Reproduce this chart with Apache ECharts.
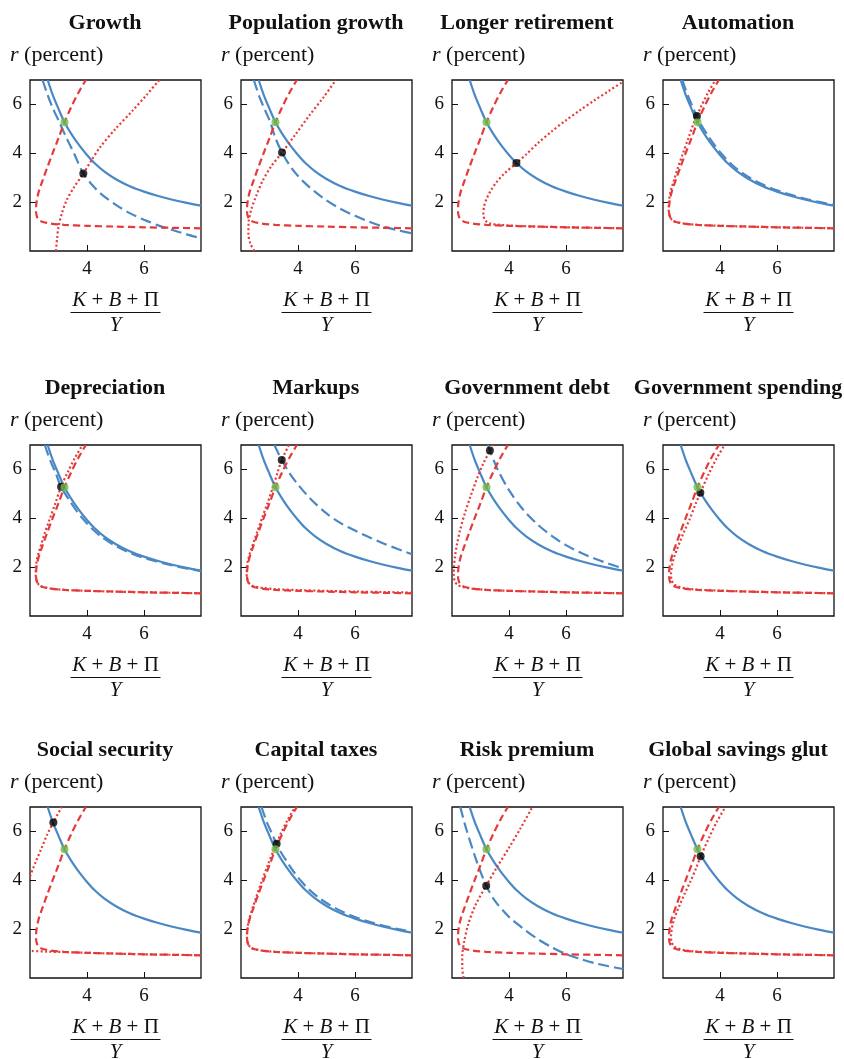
<!DOCTYPE html>
<html>
<head>
<meta charset="utf-8">
<script src="https://cdn.jsdelivr.net/npm/echarts@6/dist/echarts.min.js"></script>
<style>
  html, body { margin: 0; padding: 0; background: #fff; }
  #chart { width: 844px; height: 1059px; }
</style>
</head>
<body>
<div id="chart"></div>
<script>
// ---- data: r (percent) against (K + B + Π) / Y ----
const panelTitles = ['Growth', 'Population growth', 'Longer retirement', 'Automation',
  'Depreciation', 'Markups', 'Government debt', 'Government spending',
  'Social security', 'Capital taxes', 'Risk premium', 'Global savings glut'];
const xRange = [2, 8];
const yRange = [0, 7];
const tickStep = 2;

// initial asset demand (solid blue) and asset supply (dashed red)
const baseDemand = [[2.62,7.0],[2.8,6.38],[3.0,5.82],[3.21,5.27],[3.5,4.7],[3.75,4.29],[4.0,3.93],[4.26,3.6],[4.6,3.26],[5.0,2.95],[5.5,2.65],[6.0,2.43],[6.5,2.25],[7.0,2.1],[7.5,1.97],[8.0,1.855]];
const baseSupply = [[8.0,0.93],[7.0,0.95],[6.0,0.97],[5.0,1.0],[4.0,1.03],[3.2,1.07],[2.7,1.13],[2.45,1.19],[2.32,1.27],[2.24,1.42],[2.21,1.65],[2.22,1.9],[2.25,2.15],[2.3,2.4],[2.37,2.65],[2.46,2.95],[2.6,3.4],[2.77,3.93],[3.0,4.62],[3.21,5.27],[3.45,5.9],[3.7,6.48],[3.96,7.0]];
const baseEquilibrium = [3.21, 5.27];

// shifted demand (dashed blue) per scenario
const growthDemand = [[2.44,7.0],[2.6,6.45],[2.8,5.85],[3.03,5.27],[3.3,4.58],[3.55,3.98],[3.87,3.17],[4.2,2.68],[4.5,2.33],[5.0,1.9],[5.5,1.55],[6.0,1.28],[6.5,1.05],[7.0,0.86],[7.5,0.68],[8.0,0.52]];
const popGrowthDemand = [[2.45,7.0],[2.65,6.3],[2.85,5.75],[3.03,5.27],[3.2,4.65],[3.44,4.03],[3.8,3.35],[4.2,2.83],[4.57,2.45],[5.0,2.07],[5.5,1.72],[6.0,1.44],[6.5,1.2],[7.0,1.0],[7.5,0.85],[8.0,0.72]];
const automationDemand = [[2.68,7.0],[2.86,6.4],[3.06,5.85],[3.27,5.3],[3.56,4.75],[3.81,4.33],[4.06,3.97],[4.32,3.64],[4.66,3.3],[5.06,2.99],[5.56,2.69],[6.06,2.46],[6.56,2.28],[7.06,2.12],[7.56,1.99],[8.0,1.88]];
const depreciationDemand = [[2.52,7.0],[2.7,6.4],[2.9,5.85],[3.09,5.29],[3.4,4.7],[3.65,4.28],[3.9,3.92],[4.17,3.58],[4.5,3.25],[4.9,2.94],[5.4,2.64],[5.92,2.41],[6.45,2.23],[6.96,2.08],[7.48,1.95],[8.0,1.84]];
const markupsDemand = [[3.17,7.0],[3.43,6.39],[3.7,5.85],[4.0,5.38],[4.46,4.77],[5.0,4.2],[5.5,3.8],[6.0,3.5],[6.5,3.22],[7.0,2.97],[7.5,2.74],[8.0,2.53]];
const govDebtDemand = [[3.26,7.0],[3.33,6.77],[3.6,6.0],[4.0,5.15],[4.5,4.35],[5.0,3.75],[5.5,3.28],[6.0,2.9],[6.5,2.6],[7.0,2.35],[7.5,2.14],[8.0,1.95]];
const capitalTaxDemand = [[2.72,7.0],[2.9,6.4],[3.1,5.88],[3.31,5.33],[3.6,4.78],[3.85,4.35],[4.1,3.98],[4.35,3.66],[4.7,3.31],[5.1,3.0],[5.58,2.7],[6.07,2.47],[6.56,2.28],[7.05,2.13],[7.53,2.0],[8.0,1.89]];
const riskPremiumDemand = [[2.29,7.0],[2.5,6.1],[2.8,5.0],[3.0,4.35],[3.2,3.78],[3.5,3.17],[4.0,2.5],[4.5,2.02],[5.0,1.6],[5.5,1.26],[6.0,0.98],[6.5,0.78],[7.0,0.61],[7.5,0.48],[8.0,0.37]];

// shifted supply (dotted red) per scenario
const growthSupply = [[2.91,0.0],[2.95,0.5],[3.0,1.0],[3.12,1.55],[3.29,2.09],[3.55,2.62],[3.87,3.17],[4.15,3.7],[4.46,4.25],[5.0,5.0],[5.62,5.77],[6.1,6.4],[6.54,7.0]];
const popGrowthSupply = [[2.47,0.0],[2.33,0.3],[2.26,0.7],[2.27,1.2],[2.36,1.7],[2.53,2.25],[2.75,2.85],[3.05,3.45],[3.44,4.03],[3.9,4.75],[4.4,5.55],[4.9,6.3],[5.33,7.0]];
const retirementSupply = [[8.0,0.93],[7.0,0.95],[6.0,0.97],[5.0,1.0],[4.2,1.03],[3.7,1.07],[3.35,1.12],[3.17,1.25],[3.1,1.5],[3.13,1.85],[3.22,2.15],[3.35,2.45],[3.55,2.8],[3.8,3.13],[4.26,3.6],[4.6,3.95],[5.0,4.4],[5.5,4.9],[6.0,5.35],[6.5,5.77],[7.0,6.17],[7.5,6.55],[8.0,6.93]];
const automationSupply = [[8.0,0.93],[7.0,0.95],[6.0,0.97],[5.0,1.0],[4.0,1.03],[3.2,1.07],[2.7,1.13],[2.45,1.19],[2.32,1.27],[2.24,1.42],[2.2,1.65],[2.2,1.9],[2.22,2.15],[2.26,2.4],[2.32,2.65],[2.4,2.95],[2.52,3.4],[2.68,3.93],[2.89,4.62],[3.09,5.27],[3.19,5.53],[3.33,5.9],[3.58,6.48],[3.84,7.0]];
const depreciationSupply = [[8.0,0.93],[7.0,0.95],[6.0,0.97],[5.0,1.0],[4.0,1.03],[3.2,1.07],[2.7,1.13],[2.45,1.19],[2.32,1.27],[2.24,1.42],[2.2,1.65],[2.2,1.9],[2.22,2.15],[2.26,2.4],[2.32,2.65],[2.4,2.95],[2.52,3.4],[2.68,3.93],[2.89,4.62],[3.09,5.29],[3.33,5.9],[3.58,6.48],[3.84,7.0]];
const markupsSupply = [[8.0,0.96],[7.0,0.98],[6.0,1.0],[5.0,1.03],[4.0,1.06],[3.2,1.1],[2.7,1.16],[2.45,1.22],[2.3,1.32],[2.22,1.5],[2.2,1.7],[2.2,1.95],[2.23,2.2],[2.28,2.45],[2.35,2.7],[2.44,3.0],[2.57,3.45],[2.73,3.98],[2.93,4.62],[3.12,5.27],[3.29,5.9],[3.43,6.39],[3.68,7.0]];
const govDebtSupply = [[8.0,0.93],[7.0,0.95],[6.0,0.97],[5.0,1.0],[4.0,1.03],[3.2,1.07],[2.7,1.12],[2.4,1.18],[2.2,1.27],[2.1,1.42],[2.06,1.7],[2.07,2.0],[2.1,2.4],[2.17,2.9],[2.28,3.5],[2.45,4.2],[2.65,4.9],[2.87,5.6],[3.1,6.25],[3.33,6.77],[3.42,7.0]];
const govSpendingSupply = [[8.0,0.93],[7.0,0.95],[6.0,0.97],[5.0,1.0],[4.0,1.04],[3.2,1.08],[2.75,1.14],[2.5,1.22],[2.37,1.32],[2.3,1.48],[2.28,1.7],[2.3,1.95],[2.34,2.2],[2.4,2.45],[2.48,2.7],[2.58,3.0],[2.74,3.45],[2.93,3.95],[3.15,4.6],[3.31,5.05],[3.6,5.8],[3.88,6.45],[4.16,7.0]];
const socialSecuritySupplyLow = [[8.0,0.93],[7.0,0.95],[6.0,0.97],[5.0,1.0],[4.0,1.03],[3.2,1.06],[2.6,1.08],[2.0,1.11]];
const socialSecuritySupplyHigh = [[2.0,4.16],[2.2,4.75],[2.4,5.3],[2.6,5.86],[2.82,6.37],[3.11,7.0]];
const capitalTaxSupply = [[8.0,0.93],[7.0,0.95],[6.0,0.97],[5.0,1.0],[4.0,1.03],[3.2,1.07],[2.7,1.13],[2.45,1.19],[2.32,1.27],[2.24,1.42],[2.21,1.65],[2.21,1.9],[2.24,2.15],[2.28,2.4],[2.35,2.65],[2.43,2.95],[2.56,3.4],[2.72,3.93],[2.94,4.62],[3.16,5.27],[3.25,5.5],[3.39,5.9],[3.64,6.48],[3.9,7.0]];
const riskPremiumSupply = [[2.41,0.0],[2.36,0.4],[2.36,0.9],[2.43,1.5],[2.57,2.2],[2.83,3.0],[3.2,3.78],[3.6,4.58],[4.0,5.33],[4.4,6.12],[4.82,7.0]];
const savingsGlutSupply = [[8.0,0.93],[7.0,0.95],[6.0,0.97],[5.0,1.0],[4.0,1.04],[3.2,1.08],[2.75,1.14],[2.5,1.22],[2.37,1.32],[2.3,1.48],[2.28,1.7],[2.3,1.95],[2.34,2.2],[2.4,2.45],[2.48,2.7],[2.59,3.0],[2.76,3.45],[2.96,3.95],[3.18,4.55],[3.32,4.98],[3.62,5.75],[3.9,6.42],[4.19,7.0]];

// new equilibrium after each shift
const newEquilibria = [[3.87,3.17],[3.44,4.03],[4.26,3.6],[3.19,5.53],[3.09,5.29],[3.43,6.39],[3.33,6.77],[3.31,5.05],[2.82,6.37],[3.25,5.5],[3.2,3.78],[3.32,4.98]];

const shiftedDemand = [growthDemand, popGrowthDemand, null, automationDemand, depreciationDemand, markupsDemand,
  govDebtDemand, null, null, capitalTaxDemand, riskPremiumDemand, null];
const shiftedSupply = [[growthSupply], [popGrowthSupply], [retirementSupply], [automationSupply], [depreciationSupply],
  [markupsSupply], [govDebtSupply], [govSpendingSupply], [socialSecuritySupplyLow, socialSecuritySupplyHigh],
  [capitalTaxSupply], [riskPremiumSupply], [savingsGlutSupply]];

// ---- layout and styling ----
const COL_LEFT = [30, 241, 452, 663];
const ROW_TOP = [80, 445, 807];
const BOX = 171;
const FONT = '"Liberation Serif", "Times New Roman", serif';
const BLUE = '#4a88c5';
const RED = '#e63a3a';
const GREEN = '#6cbd4c';
const INK = '#111';

const grids = [], xAxes = [], yAxes = [], series = [], graphics = [];

function lineSeries(i, data, color, type, width) {
  return {
    type: 'line', xAxisIndex: i, yAxisIndex: i, data: data,
    showSymbol: false, symbol: 'none', smooth: 0.3, clip: true, silent: true,
    lineStyle: { color: color, width: width, type: type, cap: 'butt' }
  };
}

// ticks point into the plotting box (negative length turns them inward)
function axisFor(i, range) {
  return {
    gridIndex: i, type: 'value', min: range[0], max: range[1], interval: tickStep,
    axisLine: { show: false },
    axisTick: { show: true, inside: false, length: -6, lineStyle: { color: '#111', width: 1 } },
    axisLabel: { showMinLabel: false, showMaxLabel: false, color: INK, fontFamily: FONT, fontSize: 19 },
    splitLine: { show: false }
  };
}

panelTitles.forEach((title, i) => {
  const left = COL_LEFT[i % 4];
  const top = ROW_TOP[Math.floor(i / 4)];
  grids.push({ left: left, top: top, width: BOX, height: BOX, show: true,
    borderColor: '#111', borderWidth: 1.3, backgroundColor: 'transparent' });
  const xa = axisFor(i, xRange); xa.axisLabel.margin = 9;
  const ya = axisFor(i, yRange); ya.axisLabel.margin = 8;
  xAxes.push(xa);
  yAxes.push(ya);

  series.push(lineSeries(i, baseDemand, BLUE, 'solid', 2.2));
  if (shiftedDemand[i]) series.push(lineSeries(i, shiftedDemand[i], BLUE, [11, 5], 2.2));
  series.push(lineSeries(i, baseSupply, RED, [7, 4], 2.2));
  shiftedSupply[i].forEach(seg => series.push(lineSeries(i, seg, RED, [2, 2.4], 2.2)));
  series.push({ type: 'scatter', xAxisIndex: i, yAxisIndex: i, data: [newEquilibria[i]],
    symbolSize: 8, itemStyle: { color: '#000' }, silent: true, z: 5 });
  series.push({ type: 'scatter', xAxisIndex: i, yAxisIndex: i, data: [baseEquilibrium],
    symbolSize: 8, itemStyle: { color: GREEN }, silent: true, z: 6 });

  // panel heading
  graphics.push({ type: 'text', x: left + 75, y: top - 57, silent: true,
    style: { text: title, fontFamily: FONT, fontSize: 22, fontWeight: 'bold', fill: INK,
      textAlign: 'center', textVerticalAlign: 'middle' } });
  // vertical axis caption
  graphics.push({ type: 'text', x: left - 20, y: top - 25, silent: true,
    style: { text: '{i|r} (percent)', fontFamily: FONT, fontSize: 22, fill: INK,
      textAlign: 'left', textVerticalAlign: 'middle',
      rich: { i: { fontStyle: 'italic', fontFamily: FONT, fontSize: 22, fill: INK } } } });
  // horizontal axis caption as a fraction
  const cx = left + 85.5;
  graphics.push({ type: 'text', x: cx, y: top + 220, silent: true,
    style: { text: '{i|K} + {i|B} + Π', fontFamily: FONT, fontSize: 21, fill: INK,
      textAlign: 'center', textVerticalAlign: 'middle',
      rich: { i: { fontStyle: 'italic', fontFamily: FONT, fontSize: 21, fill: INK } } } });
  graphics.push({ type: 'line', silent: true,
    shape: { x1: cx - 45, y1: top + 232.5, x2: cx + 45, y2: top + 232.5 },
    style: { stroke: INK, lineWidth: 1.2 } });
  graphics.push({ type: 'text', x: cx, y: top + 245, silent: true,
    style: { text: 'Y', fontFamily: FONT, fontSize: 21, fontStyle: 'italic', fill: INK,
      textAlign: 'center', textVerticalAlign: 'middle' } });
});

const chart = echarts.init(document.getElementById('chart'), null, { renderer: 'canvas' });
chart.setOption({
  animation: false,
  backgroundColor: '#fff',
  grid: grids,
  xAxis: xAxes,
  yAxis: yAxes,
  series: series,
  graphic: graphics
});
</script>
</body>
</html>
